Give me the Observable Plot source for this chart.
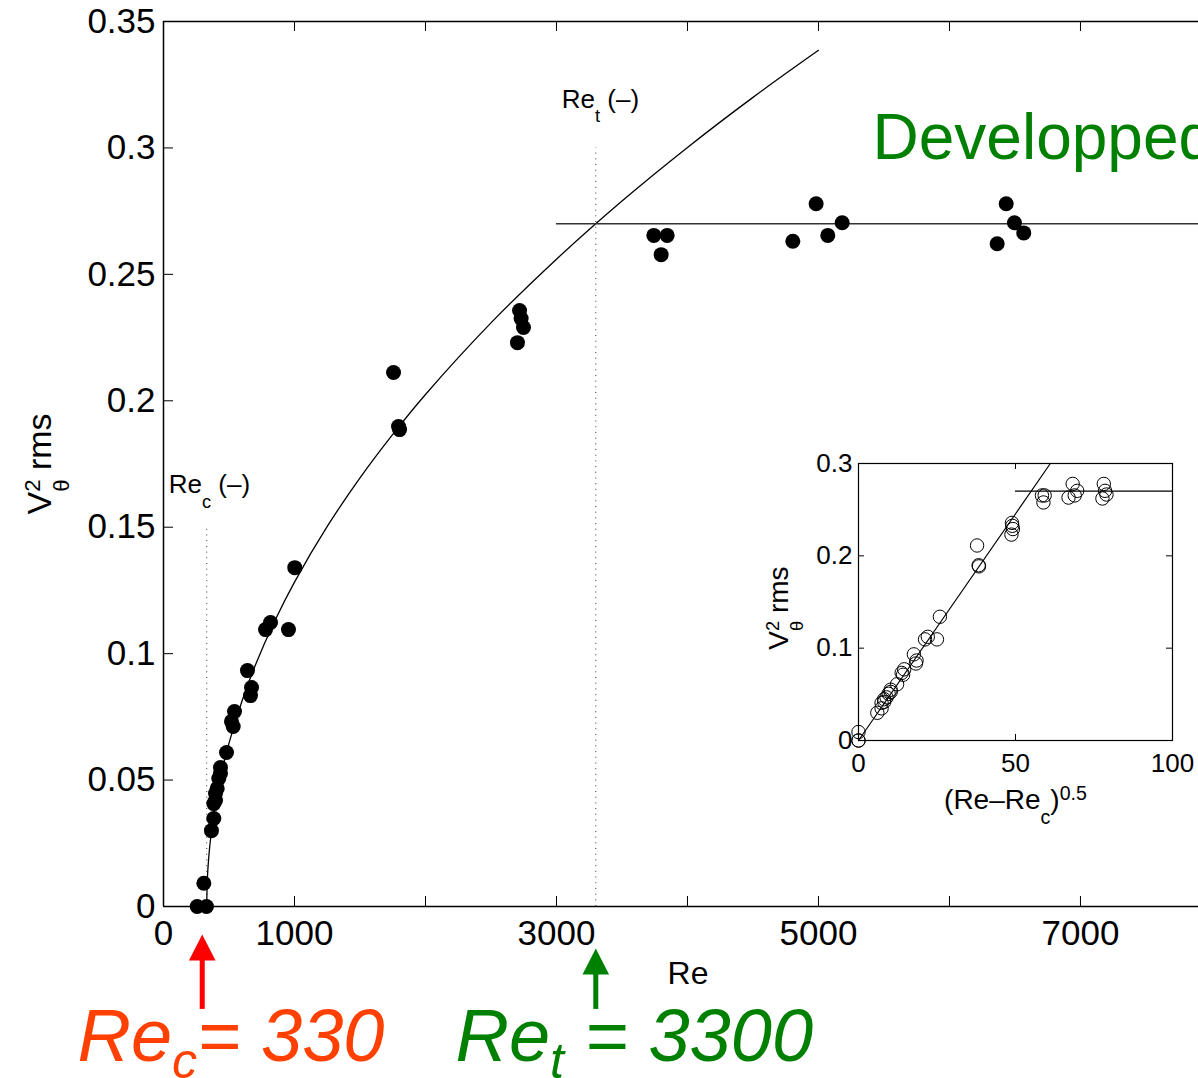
<!DOCTYPE html>
<html>
<head>
<meta charset="utf-8">
<script src="https://cdn.jsdelivr.net/npm/d3@7"></script>
<script src="https://cdn.jsdelivr.net/npm/@observablehq/plot@0.6"></script>
<style>
html, body { margin: 0; padding: 0; overflow: hidden; background: #fff; }
#wrap { position: relative; width: 1198px; height: 1078px; overflow: hidden; }
</style>
</head>
<body>
<div id="wrap"></div>
<script>
const FONT = "'Liberation Sans', Arial, Helvetica, sans-serif";

// ---------- data ----------
const reValues = [257, 328, 308, 366, 384, 384, 397, 397, 410, 422,
  435, 435, 481, 532, 519, 542, 664, 672, 641, 779,
  817, 954, 1002, 1756, 1794, 1802, 2702, 2718, 2730, 2748,
  3743, 3845, 3799, 4804, 4982, 5071, 5181, 6364, 6433, 6496, 6567];
const vValues = [0, 0, 0.0092, 0.030, 0.0348, 0.0407, 0.0419, 0.0447, 0.0467, 0.0506,
  0.0526, 0.055, 0.0609, 0.0712, 0.0732, 0.0771, 0.0834, 0.0866, 0.0933, 0.1095,
  0.1123, 0.1095, 0.134, 0.2112, 0.1898, 0.1886, 0.2230, 0.2357, 0.2325, 0.2290,
  0.2654, 0.2654, 0.2578, 0.2631, 0.2779, 0.2654, 0.2704, 0.2621, 0.2779, 0.2704, 0.2664];
// inset abscissa (Re-Re_c)^0.5 of the same points
const insetX = [0, 0, 0, 6.0, 7.35, 7.35, 8.19, 8.19, 8.94, 9.59,
  10.25, 10.25, 12.29, 14.21, 13.75, 14.56, 18.28, 18.49, 17.64, 21.19,
  22.07, 24.98, 25.92, 37.76, 38.26, 38.37, 48.70, 48.87, 48.99, 49.17,
  58.42, 59.29, 58.90, 66.89, 68.21, 68.86, 69.65, 77.68, 78.12, 78.52, 78.97];

// fitted curve
const fitRe = [330, 335, 345, 360, 400, 450, 500, 600, 700, 850, 1000, 1250, 1500, 1750, 2000, 2500, 3000, 3500, 4000, 4500, 5000];
const fitV  = [0, 0.0111, 0.0192, 0.0271, 0.0415, 0.0543, 0.0646, 0.0814, 0.0953, 0.1130, 0.1283, 0.1503, 0.1695, 0.1867, 0.2025, 0.2308, 0.2560, 0.2790, 0.3002, 0.3200, 0.3386];

const insetFitX = [0, 61.1];
const insetFitV = [0, 0.3];

const Rec = 330, Ret = 3300;
const plateauV = 0.27, plateauStartRe = 3000, insetPlateauStart = 50;
const xMax = 7901;

const xTickMarks = [0, 1000, 2000, 3000, 4000, 5000, 6000, 7000];
const xTickLabels = [0, 1000, 3000, 5000, 7000];
const yTicks = [0, 0.05, 0.1, 0.15, 0.2, 0.25, 0.3, 0.35];
const insetXTicks = [0, 50, 100];
const insetYTicks = [0, 0.1, 0.2, 0.3];

const points = reValues.map((re, i) => ({re, v: vValues[i], ix: insetX[i]}));
const fit = fitRe.map((re, i) => ({re, v: fitV[i]}));
const insetFit = insetFitX.map((x, i) => ({x, v: insetFitV[i]}));

const fmt = d => d === 0 ? "0" : String(+d.toFixed(2));

// filled arrow head with its tip at the point
const headSym = {
  draw(ctx, size) {
    const s = Math.sqrt(size / Math.PI) / 10;
    ctx.moveTo(0, 0);
    ctx.lineTo(13.3 * s, 26 * s);
    ctx.lineTo(-13.3 * s, 26 * s);
    ctx.closePath();
  }
};

const main = Plot.plot({
  width: 1198, height: 1078,
  marginTop: 21, marginBottom: 172, marginLeft: 163, marginRight: 0,
  x: {domain: [0, xMax]},
  y: {domain: [0, 0.35]},
  style: {fontFamily: FONT, position: "absolute", left: "0px", top: "0px", background: "white", overflow: "hidden"},
  marks: [
    // axis labels
    Plot.axisX({ticks: xTickLabels, tickSize: 0, tickPadding: 14, fontSize: 35, tickFormat: d => String(d), label: null}),
    Plot.axisY({ticks: yTicks, tickSize: 0, tickPadding: 8, fontSize: 35, tickFormat: fmt, label: null}),
    // inward ticks
    Plot.tickX(xTickMarks, {x: d => d, insetTop: 875, stroke: "#000", strokeWidth: 1}),
    Plot.tickX(xTickMarks, {x: d => d, insetBottom: 875, stroke: "#000", strokeWidth: 1}),
    Plot.tickY(yTicks, {y: d => d, insetRight: 1025, stroke: "#000", strokeWidth: 1}),
    // axis lines
    Plot.ruleX([0], {stroke: "#000", strokeWidth: 1.5}),
    Plot.ruleY([0], {stroke: "#000", strokeWidth: 1.5}),
    Plot.ruleY([0.35], {stroke: "#000", strokeWidth: 1.5}),
    // dotted markers of Re_c and Re_t
    Plot.ruleX([Rec], {y1: 0, y2: 0.15, stroke: "#333", strokeWidth: 1, strokeDasharray: "1,4.7"}),
    Plot.ruleX([Ret], {y1: 0, y2: 0.3, stroke: "#333", strokeWidth: 1, strokeDasharray: "1,4.7"}),
    // fit and plateau
    Plot.line(fit, {x: "re", y: "v", curve: "catmull-rom", stroke: "#000", strokeWidth: 1.3}),
    Plot.ruleY([plateauV], {x1: plateauStartRe, x2: xMax, stroke: "#333", strokeWidth: 1.5}),
    // data
    Plot.dot(points, {x: "re", y: "v", r: 7.5, fill: "#000", stroke: "none"}),
    // text annotations
    Plot.text(["Re_{c} (–)"], {x: Rec, y: 0.15, dx: -38, dy: -34, text: d => d, textAnchor: "start", lineAnchor: "bottom", fontSize: 26, fill: "#000"}),
    Plot.text(["Re_{t} (–)"], {x: Ret, y: 0.3, dx: -34, dy: -40, text: d => d, textAnchor: "start", lineAnchor: "bottom", fontSize: 26, fill: "#000"}),
    Plot.text(["Developped"], {frameAnchor: "top-left", dx: 709, dy: 137, text: d => d, textAnchor: "start", lineAnchor: "bottom", fontSize: 64, fill: "#008000"}),
    Plot.text(["Re"], {frameAnchor: "bottom", dx: 7, dy: 77, text: d => d, textAnchor: "middle", lineAnchor: "bottom", fontSize: 32, fill: "#000"}),
    Plot.text(["V^{2}_{θ} rms"], {frameAnchor: "left", dx: -113, rotate: -90, text: d => d, textAnchor: "middle", lineAnchor: "bottom", fontSize: 34, fill: "#000"}),
    // arrows below the axis
    Plot.ruleX([Rec], {dx: -4.5, y1: -0.0407, y2: -0.0205, stroke: "#FF0000", strokeWidth: 5}),
    Plot.dot([Rec], {x: d => d, y: -0.01107, dx: -4.5, r: 10, symbol: headSym, fill: "#FF0000", stroke: "none"}),
    Plot.ruleX([Ret], {y1: -0.0407, y2: -0.0261, stroke: "#008000", strokeWidth: 5}),
    Plot.dot([Ret], {x: d => d, y: -0.01661, r: 10, symbol: headSym, fill: "#008000", stroke: "none"}),
    Plot.text(["Re_{c}= 330"], {frameAnchor: "bottom-left", dx: -86, dy: 154, text: d => d, textAnchor: "start", lineAnchor: "bottom", fontSize: 74, fontStyle: "italic", fill: "#FF4000"}),
    Plot.text(["Re_{t} = 3300"], {frameAnchor: "bottom-left", dx: 292, dy: 154, text: d => d, textAnchor: "start", lineAnchor: "bottom", fontSize: 74, fontStyle: "italic", fill: "#008000"})
  ]
});

const inset = Plot.plot({
  width: 438, height: 390,
  marginLeft: 98, marginRight: 26, marginTop: 23, marginBottom: 90,
  x: {domain: [0, 100]},
  y: {domain: [0, 0.3]},
  style: {fontFamily: FONT, position: "absolute", left: "760px", top: "440px", background: "transparent", overflow: "visible"},
  marks: [
    Plot.axisX({ticks: insetXTicks, tickSize: 0, tickPadding: 13, fontSize: 26, tickFormat: d => String(d), label: null}),
    Plot.axisY({ticks: insetYTicks, tickSize: 0, tickPadding: 6, fontSize: 26, tickFormat: fmt, label: null}),
    Plot.frame({stroke: "#000", strokeWidth: 1.2, fill: "white"}),
    Plot.tickX(insetXTicks, {x: d => d, insetTop: 271, stroke: "#000"}),
    Plot.tickX(insetXTicks, {x: d => d, insetBottom: 271, stroke: "#000"}),
    Plot.tickY(insetYTicks, {y: d => d, insetRight: 308, stroke: "#000"}),
    Plot.tickY(insetYTicks, {y: d => d, insetLeft: 308, stroke: "#000"}),
    Plot.line(insetFit, {x: "x", y: "v", stroke: "#000", strokeWidth: 1.2}),
    Plot.ruleY([plateauV], {x1: insetPlateauStart, x2: 100, stroke: "#000", strokeWidth: 1.2}),
    Plot.dot(points, {x: "ix", y: "v", r: 6.7, stroke: "#000", fill: "none", strokeWidth: 1}),
    Plot.text(["V^{2}_{θ} rms"], {frameAnchor: "left", dx: -71, dy: 6, rotate: -90, text: d => d, textAnchor: "middle", lineAnchor: "bottom", fontSize: 28, fill: "#000"}),
    Plot.text(["(Re–Re_{c})^{0.5}"], {frameAnchor: "bottom", dy: 68, text: d => d, textAnchor: "middle", lineAnchor: "bottom", fontSize: 28, fill: "#000"})
  ]
});

const wrap = document.getElementById("wrap");
wrap.appendChild(main);
wrap.appendChild(inset);

// rich text: _{sub} and ^{sup}; a sup directly followed by a sub is stacked
const richStyles = {
  "Re_{c}= 330": {scale: 0.68, sub: 0.24},
  "Re_{t} = 3300": {scale: 0.68, sub: 0.24},
  "Re_{c} (–)": {scale: 0.7, sub: 0.55},
  "Re_{t} (–)": {scale: 0.7, sub: 0.55},
  "V^{2}_{θ} rms": {scale: 0.65, sup: 0.3, sub: 0.55},
  "(Re–Re_{c})^{0.5}": {scale: 0.7, sub: 0.55, sup: 0.3}
};
function rich(svg) {
  const NS = "http://www.w3.org/2000/svg";
  svg.querySelectorAll("text").forEach(el => {
    const src = el.textContent;
    const st = richStyles[src];
    if (!st) return;
    const {scale = 0.7, sub = 0.5, sup = 0.3} = st;
    const fs = parseFloat(getComputedStyle(el).fontSize);
    const parts = src.split(/(\^\{[^}]*\}|_\{[^}]*\})/).filter(s => s !== "");
    el.textContent = "";
    let shift = 0, prevSup = null;
    for (const p of parts) {
      const ts = document.createElementNS(NS, "tspan");
      let target = 0, txt = p, small = false;
      if (p.startsWith("^{")) { target = -sup * fs; txt = p.slice(2, -1); small = true; }
      else if (p.startsWith("_{")) { target = sub * fs; txt = p.slice(2, -1); small = true; }
      ts.textContent = txt;
      if (small) ts.setAttribute("font-size", scale * fs);
      if (target - shift !== 0) ts.setAttribute("dy", target - shift);
      shift = target;
      if (p.startsWith("_{") && prevSup) ts.setAttribute("dx", -prevSup.getComputedTextLength());
      el.appendChild(ts);
      prevSup = p.startsWith("^{") ? ts : null;
    }
  });
}
rich(main);
rich(inset);
</script>
</body>
</html>
